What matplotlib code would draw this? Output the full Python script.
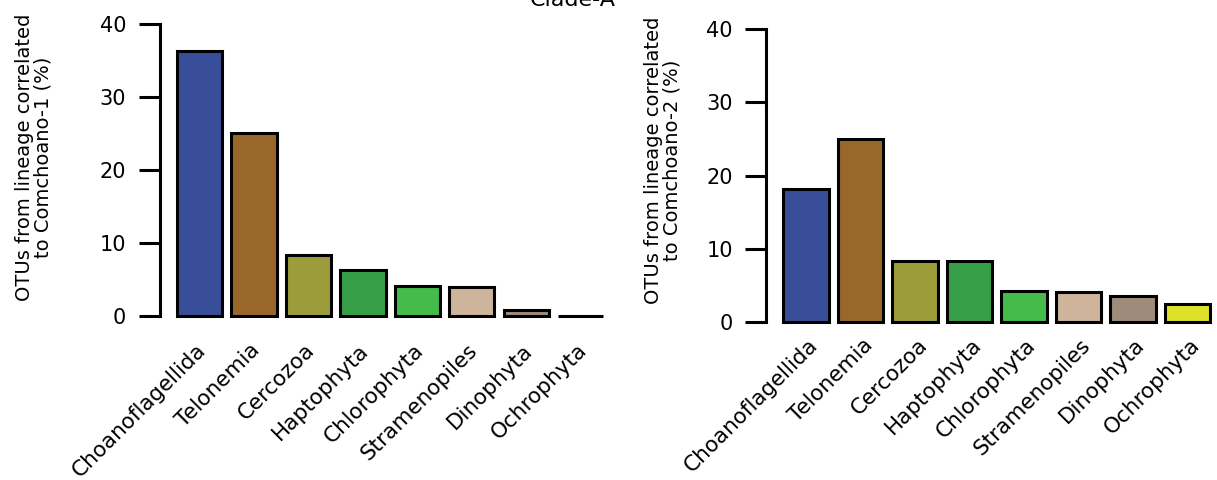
import numpy as np
import matplotlib
matplotlib.use("Agg")
import matplotlib.pyplot as plt
from matplotlib.transforms import ScaledTranslation

plt.rcParams['font.family'] = ['DejaVu Sans']

lineages = ["Choanoflagellida", "Telonemia", "Cercozoa", "Haptophyta",
            "Chlorophyta", "Stramenopiles", "Dinophyta", "Ochrophyta"]
comchoano1 = [36.3, 25.0, 8.3, 6.3, 4.15, 4.0, 0.8, 0.0]
comchoano2 = [18.2, 25.0, 8.35, 8.35, 4.2, 4.0, 3.45, 2.4]
colors = ["#394E98", "#9A672B", "#9D9C3B", "#379E48",
          "#44BB4A", "#CDB49A", "#9E8B7A", "#DDE12A"]
yticks = [0, 10, 20, 30, 40]

W, H = 1217, 480
fig = plt.figure(figsize=(W / 100, H / 100), dpi=100)

def px_axes(x0, y_top, w, h):
    return fig.add_axes([x0 / W, 1 - (y_top + h) / H, w / W, h / H])

# barplot style positions: width 1, space 0.2
lefts = 0.2 + 1.2 * np.arange(len(lineages))
centers = lefts + 0.5

panels = [
    (px_axes(159.6, 12.3, 460.9, 315.4), comchoano1, (3, 14)),
    (px_axes(766.2, 17.6, 460.9, 315.8), comchoano2, (9, 6)),
]

for ax, vals, (dx, pad) in panels:
    ax.bar(lefts, vals, width=1.0, align='edge', color=colors,
           edgecolor='black', linewidth=2.2)
    ax.set_xlim(-0.176, 9.976)
    ax.set_ylim(-1.6, 41.6)
    for s in ['top', 'right', 'bottom']:
        ax.spines[s].set_visible(False)
    ax.spines['left'].set_linewidth(2.2)
    ax.spines['left'].set_bounds(0, 40)
    ax.spines['left'].set_capstyle('projecting')
    ax.set_yticks(yticks)
    ax.tick_params(axis='y', length=15, width=2.2, pad=9, labelsize=15)
    ax.set_xticks(centers)
    ax.set_xticklabels(lineages, rotation=45, ha='right', va='center',
                       rotation_mode='anchor', fontsize=15.5)
    ax.tick_params(axis='x', length=0, pad=pad)
    off = ScaledTranslation(dx / 100, 0, fig.dpi_scale_trans)
    for lab in ax.get_xticklabels():
        lab.set_transform(lab.get_transform() + off)

fig.text(34 / W, 1 - 157 / H, "OTUs from lineage correlated\nto Comchoano-1 (%)",
         rotation=90, ha='center', va='center', fontsize=14, linespacing=1.0)
fig.text(663 / W, 1 - 160 / H, "OTUs from lineage correlated\nto Comchoano-2 (%)",
         rotation=90, ha='center', va='center', fontsize=14, linespacing=1.0)
fig.text(572.5 / W, 1 - 6 / H, "Clade-A", ha='center', va='baseline', fontsize=16)

fig.savefig("out.png", dpi=100)
